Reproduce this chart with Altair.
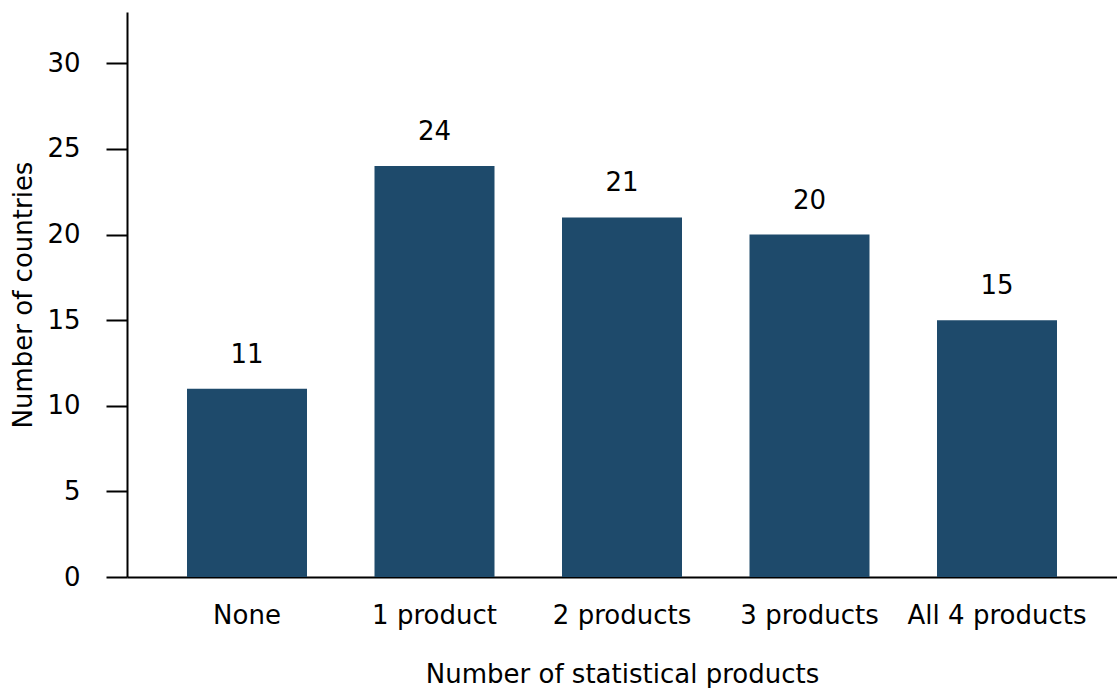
import altair as alt
import pandas as pd

categories = ["None", "1 product", "2 products", "3 products", "All 4 products"]
values = [11, 24, 21, 20, 15]

df = pd.DataFrame({"cat": categories, "val": values})

FONT = "DejaVu Sans"
FS = 26
x = alt.X("cat:N", sort=categories,
          scale=alt.Scale(paddingInner=0.36, paddingOuter=0.32),
          axis=alt.Axis(title="Number of statistical products", labelAngle=0,
                        ticks=False, labelPadding=25, titlePadding=33,
                        labelFontSize=FS, titleFontSize=FS, labelFont=FONT, titleFont=FONT,
                        titleFontWeight="normal", labelColor="black", titleColor="black",
                        domainColor="black", domainWidth=2))
y = alt.Y("val:Q", scale=alt.Scale(domain=[0, 33], nice=False),
          axis=alt.Axis(title="Number of countries", values=[0, 5, 10, 15, 20, 25, 30],
                        tickSize=21, tickWidth=2, tickColor="black", labelPadding=26,
                        titlePadding=10, labelFontSize=FS, titleFontSize=FS,
                        labelFont=FONT, titleFont=FONT, titleFontWeight="normal",
                        labelColor="black", titleColor="black", domainColor="black",
                        domainWidth=2, grid=False))

bars = alt.Chart(df).mark_bar(color="#1E4A6B").encode(x=x, y=y)
labels = alt.Chart(df).mark_text(dy=-21, baseline="bottom", fontSize=FS, font=FONT,
                                 color="black").encode(x=alt.X("cat:N", sort=categories),
                                                       y="val:Q", text="val:Q")

chart = (bars + labels).properties(
    width=990, height=565,
    background="white",
    autosize=alt.AutoSizeParams(type="none"),
    padding={"left": 127, "top": 12, "right": 0, "bottom": 111},
).configure_view(stroke=None, strokeWidth=0)

chart.save("out.html", embed_options={"renderer": "svg", "actions": False})
